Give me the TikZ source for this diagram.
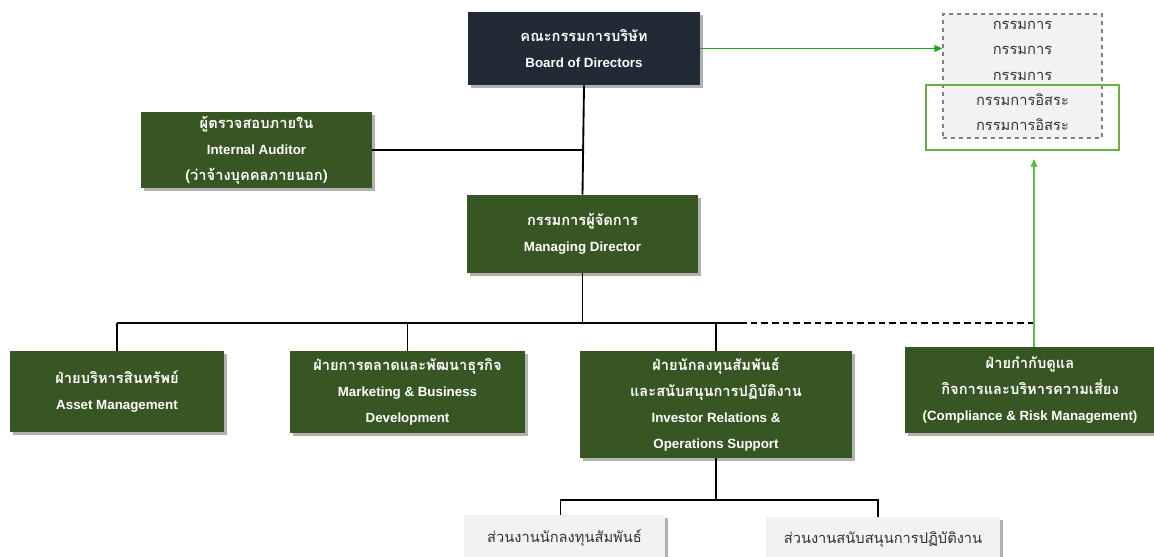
\documentclass[tikz,border=0pt]{standalone}
\usepackage{fontspec}
\setmainfont{Liberation Sans}
\newfontfamily\thai[Script=Thai]{Loma}
\usetikzlibrary{shadows,arrows.meta}
\definecolor{navy}{HTML}{222A35}
\definecolor{dkgreen}{HTML}{375623}
\definecolor{litegreen}{HTML}{70AD47}
\definecolor{arrgreen}{HTML}{22A022}
\definecolor{upgreen}{HTML}{5CBF4A}
\definecolor{panel}{HTML}{F2F2F2}
\definecolor{txtgray}{HTML}{333333}
\newcommand{\thtxt}[1]{{\thai\fontsize{11}{19.5}\selectfont #1}}
\newcommand{\entxt}[1]{{\bfseries\fontsize{10}{19.5}\selectfont #1}}
\begin{document}
\begin{tikzpicture}[x=0.75pt,y=-0.75pt,
  shade/.style={drop shadow={shadow xshift=2pt,shadow yshift=-2pt,opacity=0.3,fill=black}},
  gbox/.style={fill=dkgreen,text=white,align=center,inner sep=0pt,shade,
    font=\bfseries\fontsize{10}{19.5}\selectfont},
  lbox/.style={fill=panel,text=txtgray,align=center,inner sep=0pt,shade,
    font=\fontsize{11}{19.5}\selectfont},
  conn/.style={draw=black,line width=1.4pt},
]
\useasboundingbox (0,0) rectangle (1154,557);

% nodes
\node[gbox,fill=navy,minimum width=232*0.75pt,minimum height=73*0.75pt] (board) at (584,48.5)
  {\thtxt{\bfseries คณะกรรมการบริษัท}\\\entxt{Board of Directors}};
\node[draw=gray,dashed,line width=0.9pt,fill=panel,text=txtgray,align=center,inner sep=0pt,
  font=\fontsize{11}{19}\selectfont,
  minimum width=159*0.75pt,minimum height=124*0.75pt] (dirs) at (1022.5,76)
  {\thtxt{กรรมการ}\\\thtxt{กรรมการ}\\\thtxt{กรรมการ}\\\thtxt{กรรมการอิสระ}\\\thtxt{กรรมการอิสระ}};
\node[draw=litegreen,line width=1.2pt,minimum width=193*0.75pt,minimum height=65*0.75pt,inner sep=0pt]
  (indep) at (1022.5,117.5) {};
\node[gbox,minimum width=231*0.75pt,minimum height=76*0.75pt] (auditor) at (256.5,150)
  {\thtxt{\bfseries ผู้ตรวจสอบภายใน}\\\entxt{Internal Auditor}\\\thtxt{\bfseries (ว่าจ้างบุคคลภายนอก)}};
\node[gbox,minimum width=231*0.75pt,minimum height=78*0.75pt] (md) at (582.5,234)
  {\thtxt{\bfseries กรรมการผู้จัดการ}\\\entxt{Managing Director}};
\node[gbox,minimum width=214*0.75pt,minimum height=81*0.75pt] (asset) at (117,391.5)
  {\thtxt{\bfseries ฝ่ายบริหารสินทรัพย์}\\\entxt{Asset Management}};
\node[gbox,minimum width=235*0.75pt,minimum height=82*0.75pt] (mkt) at (407.5,392)
  {\thtxt{\bfseries ฝ่ายการตลาดและพัฒนาธุรกิจ}\\\entxt{Marketing \& Business}\\\entxt{Development}};
\node[gbox,minimum width=272*0.75pt,minimum height=107*0.75pt] (ir) at (716,404.5)
  {\thtxt{\bfseries ฝ่ายนักลงทุนสัมพันธ์}\\\thtxt{\bfseries และสนับสนุนการปฏิบัติงาน}\\\entxt{Investor Relations \&}\\\entxt{Operations Support}};
\node[gbox,minimum width=250*0.75pt,minimum height=86*0.75pt] (comp) at (1030,390)
  {\thtxt{\bfseries ฝ่ายกำกับดูแล}\\\thtxt{\bfseries กิจการและบริหารความเสี่ยง}\\\entxt{(Compliance \& Risk Management)}};
\node[lbox,minimum width=201*0.75pt,minimum height=46*0.75pt] (sub1) at (564.5,538)
  {\thtxt{ส่วนงานนักลงทุนสัมพันธ์}};
\node[lbox,minimum width=234*0.75pt,minimum height=46*0.75pt] (sub2) at (883,540)
  {\thtxt{ส่วนงานสนับสนุนการปฏิบัติงาน}};

% coordinates for bus lines
\coordinate (busL) at (117,323);
\coordinate (busR) at (740,323);
\coordinate (compTop) at ([xshift=3pt]comp.north);
\coordinate (subBus) at (716,500);

% connectors
\draw[arrgreen,line width=1.3pt,-{Triangle[length=6pt,width=5pt]}] (board.east) -- (board.east -| dirs.west);
\draw[conn] (board.south) -- (md.north);
\draw[conn] (auditor.east) -- (auditor.east -| board.south);
\draw[conn] (md.south) -- (md.south |- busL);
\draw[conn] (busL) -- (busR);
\draw[line width=1.4pt,dash pattern=on 5pt off 3pt] (busR) -- (compTop |- busR);
\draw[conn] (asset.north) -- (asset.north |- busL);
\draw[conn] (mkt.north) -- (mkt.north |- busL);
\draw[conn] (ir.north) -- (ir.north |- busL);
\draw[upgreen,line width=1.3pt] (compTop) -- (compTop |- busR);
\draw[upgreen,line width=1.3pt,-{Triangle[length=6pt,width=5pt]},shorten >=6pt] (compTop) -- (compTop |- indep.south);
\draw[conn] (ir.south) -- (subBus);
\draw[conn] ([xshift=-3pt]sub1.north) |- (subBus) -| ([xshift=-4pt]sub2.north);
\end{tikzpicture}
\end{document}
